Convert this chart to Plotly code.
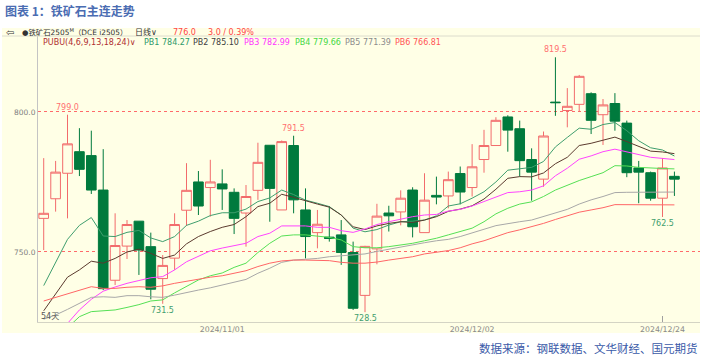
import plotly.graph_objects as go

# ---------------- data ----------------
dates = ["2024/10/11", "2024/10/14", "2024/10/15", "2024/10/16", "2024/10/17", "2024/10/18",
         "2024/10/21", "2024/10/22", "2024/10/23", "2024/10/24", "2024/10/25",
         "2024/10/28", "2024/10/29", "2024/10/30", "2024/10/31", "2024/11/01",
         "2024/11/04", "2024/11/05", "2024/11/06", "2024/11/07", "2024/11/08",
         "2024/11/11", "2024/11/12", "2024/11/13", "2024/11/14", "2024/11/15",
         "2024/11/18", "2024/11/19", "2024/11/20", "2024/11/21", "2024/11/22",
         "2024/11/25", "2024/11/26", "2024/11/27", "2024/11/28", "2024/11/29",
         "2024/12/02", "2024/12/03", "2024/12/04", "2024/12/05", "2024/12/06",
         "2024/12/09", "2024/12/10", "2024/12/11", "2024/12/12", "2024/12/13",
         "2024/12/16", "2024/12/17", "2024/12/18", "2024/12/19", "2024/12/20",
         "2024/12/23", "2024/12/24", "2024/12/25"]

opens = [762.0, 769.0, 778.1, 785.8, 784.4, 772.1, 739.9, 752.1, 761.0, 751.9, 740.5,
         747.8, 764.9, 775.0, 773.0, 774.3, 771.3, 763.9, 772.0, 788.1, 765.0,
         788.0, 765.0, 756.9, 755.3, 756.1, 749.8, 734.5, 751.1, 763.9, 764.3,
         772.1, 756.9, 770.2, 770.0, 778.0, 773.0, 783.0, 788.0, 798.2, 794.0,
         783.0, 776.0, 803.5, 800.5, 802.7, 806.5, 799.0, 803.0, 796.0, 780.0,
         778.3, 769.2, 777.0]
highs = [783.5, 782.5, 799.0, 794.2, 793.3, 786.7, 763.8, 761.4, 761.0, 756.9, 748.9,
         763.8, 781.7, 778.9, 782.9, 779.5, 772.7, 773.9, 789.0, 788.1, 789.8,
         791.5, 772.7, 765.0, 766.4, 761.4, 753.7, 752.2, 767.2, 766.5, 772.0,
         773.1, 778.1, 776.9, 778.7, 780.5, 788.5, 793.6, 798.1, 798.8, 796.9,
         787.0, 793.0, 819.5, 808.5, 813.2, 807.0, 804.6, 806.7, 796.9, 782.5,
         778.7, 783.5, 778.7]
lows = [750.7, 764.4, 762.0, 777.1, 770.7, 736.4, 738.2, 747.5, 741.8, 733.1, 731.5,
        743.6, 759.3, 763.2, 762.6, 765.0, 756.4, 751.9, 768.6, 760.8, 765.0,
        763.8, 747.7, 751.3, 753.7, 745.4, 729.3, 728.5, 745.6, 757.3, 759.5,
        755.2, 756.9, 767.0, 765.6, 767.0, 769.8, 778.3, 788.0, 785.8, 776.9,
        768.3, 773.3, 798.6, 794.5, 800.0, 792.1, 788.2, 793.3, 776.7, 767.4,
        768.3, 762.5, 770.0]
closes = [763.8, 778.5, 788.6, 779.5, 772.1, 736.9, 752.3, 759.8, 750.7, 736.7, 745.2,
          759.8, 772.0, 766.4, 775.0, 772.5, 762.0, 769.8, 782.0, 772.7, 789.4,
          768.6, 755.5, 759.9, 754.8, 749.8, 729.9, 752.0, 762.8, 762.9, 769.2,
          759.0, 768.5, 769.6, 775.8, 771.4, 780.4, 788.0, 797.0, 793.5, 782.6,
          778.5, 791.4, 803.3, 802.0, 812.7, 797.0, 802.5, 796.7, 778.3, 778.5,
          769.2, 780.0, 776.0]

pb1 = [738.0, 746.0, 754.5, 759.5, 762.3, 755.7, 755.5, 757.0, 757.7, 755.0, 753.7,
       755.5, 759.5, 761.0, 763.0, 764.0, 764.0, 765.3, 768.0, 769.3, 772.1,
       770.5, 768.5, 767.4, 766.2, 763.2, 758.5, 757.2, 758.0, 759.6, 760.8,
       761.0, 761.4, 762.9, 766.4, 767.2, 769.2, 771.5, 775.0, 779.2, 779.7,
       780.2, 782.3, 787.5, 790.9, 794.2, 793.8, 795.5, 796.2, 793.3, 789.7,
       787.2, 786.4, 784.27]
pb2 = [729.0, 735.2, 741.0, 743.6, 746.7, 746.0, 747.7, 750.0, 751.0, 749.5, 747.7,
       748.9, 752.9, 755.5, 757.3, 758.8, 759.8, 762.6, 766.2, 767.4, 770.6,
       769.5, 768.2, 767.1, 766.0, 763.2, 759.0, 758.0, 759.3, 760.2, 760.8,
       760.5, 761.4, 762.6, 764.5, 765.3, 766.5, 768.9, 772.4, 776.3, 776.9,
       776.8, 778.2, 781.5, 783.8, 788.0, 788.8, 790.0, 791.0, 789.4, 787.7,
       786.0, 785.7, 785.10]
pb3 = [716.0, 720.0, 724.5, 729.3, 733.1, 736.0, 737.5, 738.8, 739.8, 740.8, 741.2,
       743.6, 746.5, 748.5, 750.4, 751.4, 752.2, 753.1, 755.5, 756.7, 759.3,
       759.3, 759.3, 758.8, 758.8, 757.6, 757.0, 758.2, 759.8, 760.8, 761.7,
       762.6, 763.2, 763.4, 764.6, 765.2, 766.4, 768.0, 769.8, 771.2, 771.5,
       772.1, 773.6, 777.2, 779.9, 783.1, 784.3, 785.8, 786.7, 785.8, 784.9,
       783.8, 783.4, 782.99]
pb4 = [715.0, 719.0, 723.0, 726.9, 728.7, 729.0, 729.3, 730.2, 731.2, 732.5, 732.9,
       735.4, 737.6, 740.0, 741.5, 742.5, 744.5, 746.0, 749.8, 753.1, 755.7,
       756.1, 756.1, 755.7, 755.2, 754.3, 751.9, 751.5, 751.5, 751.9, 752.5,
       753.1, 754.0, 754.9, 756.1, 757.3, 758.5, 760.8, 763.6, 765.6, 767.1,
       767.9, 769.8, 772.1, 773.9, 775.5, 776.9, 778.3, 780.8, 780.7, 780.2,
       779.9, 779.8, 779.66]
pb5 = [726.0, 727.5, 729.5, 731.7, 733.8, 734.0, 733.8, 734.4, 734.4, 734.0, 733.8,
       734.6, 735.6, 736.4, 737.2, 738.2, 739.0, 740.2, 742.4, 744.2, 746.3,
       747.1, 747.4, 747.7, 748.3, 748.6, 748.9, 749.3, 750.2, 751.0, 751.9,
       752.5, 753.3, 754.0, 754.5, 755.5, 756.7, 758.1, 759.4, 760.2, 760.8,
       761.4, 762.6, 763.8, 765.2, 767.1, 768.6, 769.8, 771.2, 771.3, 771.3,
       771.3, 771.4, 771.39]
pb6 = [732.5, 733.8, 735.2, 736.4, 737.6, 737.0, 737.0, 737.4, 737.6, 737.4, 737.9,
       738.8, 739.6, 740.4, 741.0, 741.5, 742.4, 743.3, 744.8, 746.0, 746.8,
       747.1, 747.1, 747.1, 746.9, 746.3, 746.0, 746.0, 746.4, 747.1, 747.7,
       748.3, 749.3, 749.9, 750.5, 751.5, 752.9, 754.0, 755.5, 756.9, 757.9,
       759.0, 760.2, 761.6, 763.0, 764.2, 765.0, 765.8, 766.9, 766.9, 766.9,
       766.8, 766.8, 766.81]

series_names = ["PB1", "PB2", "PB3", "PB4", "PB5", "PB6"]
series_vals = [pb1, pb2, pb3, pb4, pb5, pb6]
last_vals = ["784.27", "785.10", "782.99", "779.66", "771.39", "766.81"]
xtick_vals = ["2024/11/01", "2024/12/02", "2024/12/24"]
ytick_vals = [750, 800]
ytick_text = ["750.0", "800.0"]

high_marks = [("2024/10/15", 799.0), ("2024/11/11", 791.5), ("2024/12/11", 819.5)]
low_marks = [("2024/10/25", 731.5), ("2024/11/19", 728.5), ("2024/12/24", 762.5)]

# ---------------- styling ----------------
W, H = 711, 358
L, R, T, B = 38, 11, 36, 36
PW, PH = W - L - R, H - T - B
PANEL = "#ffffe6"
UP = "#f26b6b"
DOWN = "#007a3d"
line_colors = ["#3f9e6e", "#5b3a2e", "#ff44ff", "#55e055", "#a8a8a8", "#ff6666"]
text_colors = ["#2e9a6a", "#404040", "#ff33ff", "#44d844", "#8c8c8c", "#ff5555"]
FONT = "DejaVu Sans, Noto Sans CJK SC, sans-serif"
CJK = "Noto Sans CJK SC, sans-serif"


def px(x):
    return (x - L) / PW


def py(y):
    return (H - B - y) / PH


fig = go.Figure()
fig.add_trace(go.Candlestick(
    x=dates, open=opens, high=highs, low=lows, close=closes,
    increasing=dict(line=dict(color=UP, width=1), fillcolor=PANEL),
    decreasing=dict(line=dict(color=DOWN, width=1), fillcolor=DOWN),
    whiskerwidth=0, showlegend=False, hoverinfo="skip"))

for name, vals, col in zip(series_names, series_vals, line_colors):
    fig.add_trace(go.Scatter(x=dates, y=vals, mode="lines", name=name,
                             line=dict(color=col, width=1), showlegend=False,
                             hoverinfo="skip"))

ann = []
for d, v in high_marks:
    ann.append(dict(x=d, y=v, xref="x", yref="y", text=f"{v:.1f}", showarrow=False,
                    yanchor="bottom", yshift=1, font=dict(family=FONT, size=8, color="#ff7070")))
for d, v in low_marks:
    ann.append(dict(x=d, y=v, xref="x", yref="y", text=f"{v:.1f}", showarrow=False,
                    yanchor="top", yshift=0, font=dict(family=FONT, size=8, color="#3f9e6e")))

# header rows
row1, row2 = py(32), py(42.5)
ann += [
    dict(x=px(4), y=row1, text="⇦", font=dict(family=FONT, size=10, color="#333333")),
    dict(x=px(20), y=row1, text="●铁矿石2505<sup>M</sup>（DCE i2505）",
         font=dict(family=FONT, size=7.4, color="#333333")),
    dict(x=px(133), y=row1, text="日线∨", font=dict(family=FONT, size=8, color="#333333")),
    dict(x=px(171), y=row1, text="776.0", font=dict(family=FONT, size=8, color="#ff4444")),
    dict(x=px(206), y=row1, text="3.0 / 0.39%", font=dict(family=FONT, size=8, color="#ff4444")),
    dict(x=px(41), y=row2, text="PUBU(4,6,9,13,18,24)∨",
         font=dict(family=FONT, size=8, color="#b03030")),
]
pb_x = [142, 191, 242, 293, 343, 393]
for name, val, col, xx in zip(series_names, last_vals, text_colors, pb_x):
    ann.append(dict(x=px(xx), y=row2, text=f"{name} {val}",
                    font=dict(family=FONT, size=8, color=col)))
ann.append(dict(x=px(38.5), y=py(316.5), text="54天",
                font=dict(family=FONT, size=8, color="#555555")))
ann.append(dict(x=px(3), y=py(10.5), text="<b>图表 1：铁矿石主连走势</b>",
                font=dict(family=CJK, size=12, color="#4a6cb2")))
ann.append(dict(x=px(700), y=py(347.5), text="数据来源：钢联数据、文华财经、国元期货",
                xanchor="right", font=dict(family=CJK, size=11.5, color="#3a5aa8")))
for a in ann[len(high_marks) + len(low_marks):]:
    a.setdefault("xref", "paper")
    a.setdefault("yref", "paper")
    a.setdefault("xanchor", "left")
    a.setdefault("yanchor", "middle")
    a["showarrow"] = False

shapes = [
    dict(type="rect", xref="paper", yref="paper", x0=px(2), x1=px(700), y0=py(333), y1=py(28),
         fillcolor=PANEL, line=dict(width=0), layer="below"),
    dict(type="line", xref="paper", yref="paper", x0=px(2), x1=px(700), y0=py(36), y1=py(36),
         line=dict(color="#dcdccc", width=1)),
    dict(type="line", xref="x", yref="paper", x0=xtick_vals[-1], x1=xtick_vals[-1],
         y0=0, y1=py(316), line=dict(color="#a0a0a0", width=1)),
]

fig.update_layout(
    width=W, height=H, autosize=False,
    margin=dict(l=L, r=R, t=T, b=B, pad=0),
    paper_bgcolor="white", plot_bgcolor=PANEL,
    boxgap=0.1, boxgroupgap=0.1,
    annotations=ann, shapes=shapes, showlegend=False,
    xaxis=dict(type="category", range=[-0.48, 55.15], rangeslider=dict(visible=False),
               showgrid=False, zeroline=False, showline=True, linecolor="#d4d4c4",
               linewidth=1, ticks="", tickvals=xtick_vals, ticktext=xtick_vals,
               tickfont=dict(family=FONT, size=7.8, color="#8a8a8a"), fixedrange=True),
    yaxis=dict(range=[725, 827.1], tickvals=ytick_vals, ticktext=ytick_text,
               showgrid=True, gridcolor="#ff6a6a", griddash="dot", gridwidth=1,
               zeroline=False, showline=True, linecolor="#c4c4c4", linewidth=1, ticks="",
               tickfont=dict(family=FONT, size=7.5, color="#808080"), fixedrange=True),
)

fig.write_html("out.html", config={"displayModeBar": False},
               post_script="document.body.style.margin='0';document.body.style.overflow='hidden';")
